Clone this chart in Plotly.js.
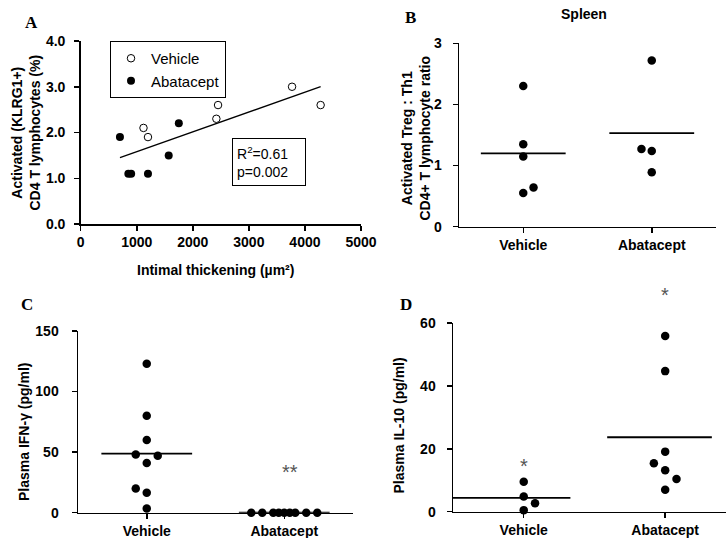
<!DOCTYPE html>
<html>
<head>
<meta charset="utf-8">
<script src="https://cdn.plot.ly/plotly-3.0.1.min.js"></script>
<style>html,body{margin:0;padding:0;background:#fff;}#chart{width:726px;height:538px;}</style>
</head>
<body>
<div id="chart"></div>
<script>
// ---------- Data ----------
// Panel A: activated CD4 T cells vs intimal thickening
const aVehicleX = [1120, 1200, 2420, 2450, 3770, 4280];
const aVehicleY = [2.1, 1.9, 2.3, 2.6, 3.0, 2.6];
const aAbataceptX = [700, 850, 900, 1200, 1570, 1750];
const aAbataceptY = [1.9, 1.1, 1.1, 1.1, 1.5, 2.2];
const aStatsText = 'R<sup>2</sup>=0.61<br>p=0.002';

// Groups for B, C, D
const groups = ['Vehicle', 'Abatacept'];

// Panel B: Spleen, activated Treg : Th1 ratio
const bVehicle = [2.3, 1.35, 1.15, 0.55, 0.64];
const bVehicleJitter = [0, 0, 0, 0, 0.08];
const bAbatacept = [2.72, 1.27, 1.24, 0.89];
const bAbataceptJitter = [0, -0.08, 0, 0];

// Panel C: Plasma IFN-gamma (pg/ml)
const cVehicle = [123, 80, 60, 48, 47, 41, 20, 16.5, 3.5];
const cVehicleJitter = [0, 0, 0, -0.08, 0.08, 0, -0.08, 0, 0];
const cAbatacept = [0, 0, 0, 0, 0, 0, 0, 0, 0];
const cAbataceptJitter = [-0.24, -0.16, -0.08, -0.04, 0, 0.04, 0.08, 0.16, 0.24];

// Panel D: Plasma IL-10 (pg/ml)
const dVehicle = [9.5, 4.8, 2.7, 0.5];
const dVehicleJitter = [0, 0, 0.08, 0];
const dAbatacept = [55.9, 44.7, 19.1, 15.4, 13.2, 10.4, 7.0];
const dAbataceptJitter = [0, 0, 0, -0.08, 0, 0.08, 0];

// Significance marks: [group index, y value, text]
const cSig = [[1, 34, '**']];
const dSig = [[0, 14.5, '*'], [1, 69, '*']];

// ---------- Helpers ----------
const W = 726, H = 538;
const px = v => v / W;
const py = v => (H - v) / H;
const FONT = 'Liberation Sans, Arial, sans-serif';
const SERIF = 'Liberation Serif, Times New Roman, serif';
const mean = a => a.reduce((s, v) => s + v, 0) / a.length;

// plot areas (pixels) and ranges
const areaC = {x0: 78, x1: 353, yTop: 331, yBot: 512.7, xr: [-0.5, 1.5], yr: [0, 150]};
const areaD = {x0: 453, x1: 726, yTop: 323, yBot: 511.7, xr: [-0.5, 1.43], yr: [0, 60]};

function dots(vals, jit, g, xa, ya) {
  return {
    type: 'scatter', mode: 'markers', xaxis: xa, yaxis: ya, showlegend: false,
    x: vals.map((v, i) => g + jit[i]), y: vals, cliponaxis: false,
    marker: {color: 'black', size: 8.5, line: {width: 0}}, hoverinfo: 'y'
  };
}
function meanLine(vals, g, xa, ya, left, right) {
  const m = mean(vals);
  return {
    type: 'scatter', mode: 'lines', xaxis: xa, yaxis: ya, showlegend: false,
    x: [g + left, g + right], y: [m, m],
    line: {color: 'black', width: 1.8}, hoverinfo: 'skip'
  };
}

// regression for panel A
const allX = aVehicleX.concat(aAbataceptX);
const allY = aVehicleY.concat(aAbataceptY);
const mx = mean(allX), my = mean(allY);
let sxy = 0, sxx = 0;
allX.forEach((x, i) => { sxy += (x - mx) * (allY[i] - my); sxx += (x - mx) * (x - mx); });
const slope = sxy / sxx, icpt = my - slope * mx;
const fitX = [Math.min(...allX), Math.max(...allX)];
const fitY = fitX.map(x => icpt + slope * x);

const traces = [
  {type: 'scatter', mode: 'lines', x: fitX, y: fitY, xaxis: 'x', yaxis: 'y',
   line: {color: 'black', width: 1.3}, showlegend: false, hoverinfo: 'skip'},
  {type: 'scatter', mode: 'markers', name: 'Vehicle', x: aVehicleX, y: aVehicleY, xaxis: 'x', yaxis: 'y',
   marker: {symbol: 'circle', color: 'white', size: 7.5, line: {color: 'black', width: 1}}},
  {type: 'scatter', mode: 'markers', name: 'Abatacept', x: aAbataceptX, y: aAbataceptY, xaxis: 'x', yaxis: 'y',
   marker: {symbol: 'circle', color: 'black', size: 8, line: {width: 0}}},
  dots(bVehicle, bVehicleJitter, 0, 'x2', 'y2'),
  dots(bAbatacept, bAbataceptJitter, 1, 'x2', 'y2'),
  meanLine(bVehicle, 0, 'x2', 'y2', -0.33, 0.33),
  meanLine(bAbatacept, 1, 'x2', 'y2', -0.33, 0.33),
  dots(cVehicle, cVehicleJitter, 0, 'x3', 'y3'),
  dots(cAbatacept, cAbataceptJitter, 1, 'x3', 'y3'),
  meanLine(cVehicle, 0, 'x3', 'y3', -0.33, 0.33),
  meanLine(cAbatacept, 1, 'x3', 'y3', -0.33, 0.33),
  dots(dVehicle, dVehicleJitter, 0, 'x4', 'y4'),
  dots(dAbatacept, dAbataceptJitter, 1, 'x4', 'y4'),
  meanLine(dVehicle, 0, 'x4', 'y4', -0.5, 0.33),
  meanLine(dAbatacept, 1, 'x4', 'y4', -0.41, 0.33)
];

const tickFont = {family: FONT, size: 14, color: 'black', weight: 'bold'};
function axis(extra) {
  return Object.assign({
    showline: true, linecolor: 'black', linewidth: 1.5, mirror: false,
    ticks: 'outside', ticklen: 5, tickwidth: 1.5, tickcolor: 'black',
    showgrid: false, zeroline: false, tickfont: tickFont, fixedrange: true
  }, extra);
}
function catAxis(domain, anchor, range) {
  return axis({domain: domain, anchor: anchor, range: range || [-0.5, 1.5],
    tickmode: 'array', tickvals: groups.map((g, i) => i), ticktext: groups});
}

function title(text, x, y, rot, size) {
  return {text: text, xref: 'paper', yref: 'paper', x: px(x), y: py(y),
    xanchor: 'center', yanchor: 'middle', showarrow: false, textangle: rot || 0,
    font: {family: FONT, size: size || 14, color: 'black', weight: 'bold'}};
}
function letter(t, x, y) {
  return {text: t, xref: 'paper', yref: 'paper', x: px(x), y: py(y),
    xanchor: 'center', yanchor: 'middle', showarrow: false,
    font: {family: SERIF, size: 17, color: 'black', weight: 'bold'}};
}
// significance marks placed through the panel's own scale (paper coords so they may sit above the axis top)
function sig(list, area) {
  return list.map(s => {
    const xv = s[0] + (s[2].length > 1 ? 0.04 : 0);
    const xPix = area.x0 + (xv - area.xr[0]) / (area.xr[1] - area.xr[0]) * (area.x1 - area.x0);
    const yPix = area.yBot - (s[1] - area.yr[0]) / (area.yr[1] - area.yr[0]) * (area.yBot - area.yTop);
    return {text: s[2], xref: 'paper', yref: 'paper', x: px(xPix), y: py(yPix),
      xanchor: 'center', yanchor: 'middle', showarrow: false,
      font: {family: FONT, size: 20, color: '#555'}};
  });
}

const layout = {
  width: W, height: H, autosize: false,
  margin: {l: 0, r: 0, t: 0, b: 0},
  paper_bgcolor: 'white', plot_bgcolor: 'white',
  font: {family: FONT, color: 'black'},
  showlegend: true,
  legend: {x: px(110), y: py(41), xanchor: 'left', yanchor: 'top',
    bordercolor: 'black', borderwidth: 1, bgcolor: 'white',
    font: {family: FONT, size: 15, color: 'black'}, itemwidth: 30, tracegroupgap: 0},
  xaxis: axis({domain: [px(80.7), px(361)], anchor: 'y', range: [0, 5000], dtick: 1000, tick0: 0}),
  yaxis: axis({domain: [py(224), py(41)], anchor: 'x', range: [0, 4], dtick: 1, tickformat: '.1f', ticklabelstandoff: 6}),
  xaxis2: catAxis([px(459), px(716)], 'y2'),
  yaxis2: axis({domain: [py(226.7), py(43.3)], anchor: 'x2', range: [0, 3], dtick: 1, ticklabelstandoff: 8}),
  xaxis3: catAxis([px(areaC.x0), px(areaC.x1)], 'y3', areaC.xr),
  yaxis3: axis({domain: [py(areaC.yBot), py(areaC.yTop)], anchor: 'x3', range: areaC.yr, dtick: 50, ticklabelstandoff: 10}),
  xaxis4: catAxis([px(areaD.x0), Math.min(1, px(areaD.x1))], 'y4', areaD.xr),
  yaxis4: axis({domain: [py(areaD.yBot), py(areaD.yTop)], anchor: 'x4', range: areaD.yr, dtick: 20, ticklabelstandoff: 8}),
  annotations: [
    letter('A', 31, 23), letter('B', 410, 17), letter('C', 27, 304), letter('D', 406, 304),
    title('Activated (KLRG1+)<br>CD4 T lymphocytes (%)', 25.5, 133, -90),
    title('Intimal thickening (µm²)', 215, 270, 0),
    title('Activated Treg : Th1<br>CD4+ T lymphocyte ratio', 415.5, 138, -90),
    title('Spleen', 584, 14, 0),
    title('Plasma IFN-γ (pg/ml)', 24, 432, -90),
    title('Plasma IL-10 (pg/ml)', 398.5, 426, -90),
    {text: aStatsText, xref: 'paper', yref: 'paper', x: px(269), y: py(161.5),
     xanchor: 'center', yanchor: 'middle', showarrow: false, align: 'left',
     width: 64, height: 38, borderpad: 4, bordercolor: 'black', borderwidth: 1, bgcolor: 'white',
     font: {family: FONT, size: 14, color: 'black'}}
  ].concat(sig(cSig, areaC), sig(dSig, areaD))
};

Plotly.newPlot('chart', traces, layout, {displayModeBar: false, staticPlot: true});
</script>
</body>
</html>
